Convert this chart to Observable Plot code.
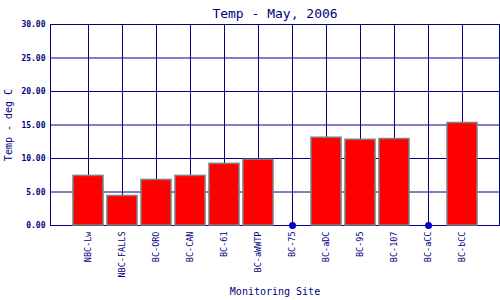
<!DOCTYPE html>
<html><head><meta charset="utf-8">
<script src="https://cdn.jsdelivr.net/npm/d3@7"></script>
<script src="https://cdn.jsdelivr.net/npm/@observablehq/plot@0.6"></script>
<style>body{margin:0;background:#fff}</style>
</head><body><div id="chart"></div>
<script>
const sites = ["NBC-Lw","NBC-FALLS","BC-ORO","BC-CAN","BC-61","BC-aWWTP","BC-75","BC-aDC","BC-95","BC-107","BC-aCC","BC-bCC"];
const temps = [7.4, 4.4, 6.8, 7.4, 9.2, 9.8, null, 13.1, 12.8, 12.9, null, 15.3];
const yTicks = [0, 5, 10, 15, 20, 25, 30];
const title = "Temp - May, 2006";
const xLabel = "Monitoring Site";
const yLabel = "Temp - deg C";

const data = sites.map((s, i) => ({site: s, temp: temps[i]}));
const bars = data.filter(d => d.temp !== null);
const missing = data.filter(d => d.temp === null).map(d => ({site: d.site, temp: 0}));
const navy = "#000080";
const mono = "DejaVu Sans Mono";

const chart = Plot.plot({
  width: 500, height: 300,
  marginLeft: 50, marginRight: 1, marginTop: 24, marginBottom: 75,
  style: {fontFamily: mono, color: navy, background: "#fff"},
  x: {type: "band", domain: sites, paddingInner: 0.13, paddingOuter: 0.565},
  y: {domain: [0, 30]},
  marks: [
    Plot.gridY(yTicks, {stroke: navy, strokeOpacity: 1, strokeWidth: 1}),
    Plot.gridX(sites, {stroke: navy, strokeOpacity: 1, strokeWidth: 1}),
    Plot.frame({stroke: navy, strokeWidth: 1}),
    Plot.barY(bars, {x: "site", y: "temp", fill: "#ff0000", stroke: "#808080", strokeWidth: 1.5}),
    Plot.dot(missing, {x: "site", y: "temp", r: 3.5, fill: "#0000cc"}),
    Plot.axisY(yTicks, {tickFormat: d3.format(".2f"), tickSize: 0, tickPadding: 5, fontSize: 8, fontWeight: "bold", fill: navy, label: null}),
    Plot.axisX({tickRotate: -90, tickSize: 0, tickPadding: 6, fontSize: 8.5, fill: navy, label: null}),
    Plot.text([title], {frameAnchor: "top", dy: -16, fontSize: 13, fill: navy, fontFamily: mono}),
    Plot.text([xLabel], {frameAnchor: "bottom", dy: 69, fontSize: 10, fill: navy, fontFamily: mono}),
    Plot.text([yLabel], {frameAnchor: "left", textAnchor: "middle", dx: -42, rotate: -90, fontSize: 10, fill: navy, fontFamily: mono})
  ]
});
document.getElementById("chart").appendChild(chart);
</script></body></html>
